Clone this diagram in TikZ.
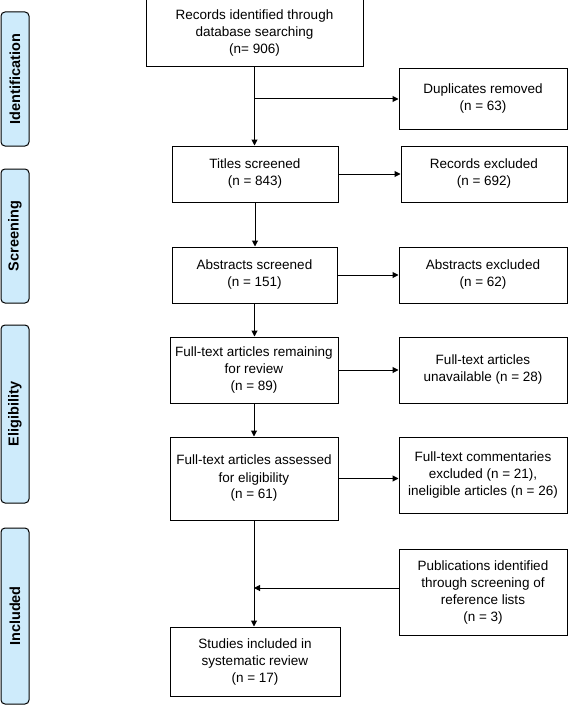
\documentclass[tikz,border=0pt]{standalone}
\usepackage{fontspec}
\setmainfont{Liberation Sans}
\usetikzlibrary{arrows.meta}

\definecolor{phasefill}{RGB}{206,235,251}

\tikzset{
    flowbox/.style={draw, line width=1pt, align=center, inner sep=2pt,
        font=\fontsize{13.5}{17}\selectfont},
    phase/.style={draw, line width=1pt, rounded corners=4pt, fill=phasefill,
        rotate=90, inner sep=0pt, minimum height=28pt,
        font=\fontsize{14.5}{17}\selectfont\bfseries},
    flow/.style={line width=1pt, -{Triangle[length=6pt,width=6pt]}},
}

\begin{document}
\begin{tikzpicture}[x=1pt,y=-1pt]
    \useasboundingbox (0,0) rectangle (568,706);

    % phases
    \node[phase, minimum width=134pt] (ident) at (15,79) {Identification};
    \node[phase, minimum width=134pt] (screen) at (15,236) {Screening};
    \node[phase, minimum width=178pt] (elig) at (15,414) {Eligibility};
    \node[phase, minimum width=176pt] (incl) at (15,616) {Included};

    % main column
    \node[flowbox, minimum width=217pt, minimum height=67pt] (records) at (254.5,33.5)
        {Records identified through\\database searching\\(n= 906)};
    \node[flowbox, minimum width=166pt, minimum height=56pt] (titles) at (255,174)
        {Titles screened\\(n = 843)};
    \node[flowbox, minimum width=165pt, minimum height=56pt] (abstracts) at (254.5,275)
        {Abstracts screened\\(n = 151)};
    \node[flowbox, minimum width=168pt, minimum height=66pt] (fulltext) at (254,370)
        {Full-text articles remaining\\for review\\(n = 89)};
    \node[flowbox, minimum width=168pt, minimum height=83pt] (assessed) at (254,478.5)
        {Full-text articles assessed\\for eligibility\\(n = 61)};
    \node[flowbox, minimum width=170pt, minimum height=69pt] (studies) at (255,661.5)
        {Studies included in\\systematic review\\(n = 17)};

    % right column
    \node[flowbox, minimum width=168pt, minimum height=60pt] (dupl) at (483,99)
        {Duplicates removed\\(n = 63)};
    \node[flowbox, minimum width=166pt, minimum height=56pt] (recexcl) at (484,174)
        {Records excluded\\(n = 692)};
    \node[flowbox, minimum width=168pt, minimum height=56pt] (absexcl) at (483,275)
        {Abstracts excluded\\(n = 62)};
    \node[flowbox, minimum width=168pt, minimum height=66pt] (unavail) at (483,370)
        {Full-text articles\\unavailable (n = 28)};
    \node[flowbox, minimum width=168pt, minimum height=76pt] (commexcl) at (483,475)
        {Full-text commentaries\\excluded (n = 21),\\ineligible articles (n = 26)};
    \node[flowbox, minimum width=168pt, minimum height=86pt] (pubs) at (483,592)
        {Publications identified\\through screening of\\reference lists\\(n = 3)};

    \coordinate (split) at (records.south |- dupl.west);
    \coordinate (merge) at (assessed.south |- 0,588);

    \draw[flow] (records.south) -- (records.south |- titles.north);
    \draw[flow] (split) -- (dupl.west);
    \draw[flow] (titles.east) -- (recexcl.west);
    \draw[flow] (titles.south) -- (titles.south |- abstracts.north);
    \draw[flow] (abstracts.east) -- (absexcl.west);
    \draw[flow] (abstracts.south) -- (abstracts.south |- fulltext.north);
    \draw[flow] (fulltext.east) -- (unavail.west);
    \draw[flow] (fulltext.south) -- (assessed.north);
    \draw[flow] (assessed.east) -- (assessed.east -| commexcl.west);
    \draw[flow] (assessed.south) -- (assessed.south |- studies.north);
    \draw[flow] (pubs.west |- merge) -- (merge);
\end{tikzpicture}
\end{document}
